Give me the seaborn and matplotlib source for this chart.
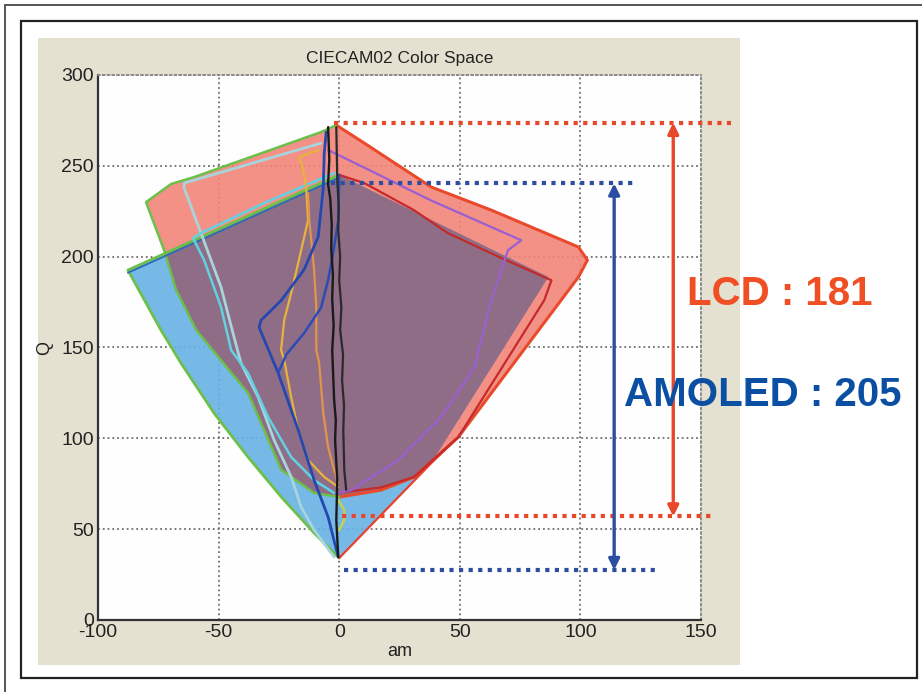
import matplotlib
matplotlib.use("Agg")
import matplotlib.pyplot as plt
import seaborn as sns
import numpy as np
from matplotlib.patches import Rectangle
from matplotlib.lines import Line2D

# gamut outlines (am, Q)
lcd_am = [-1.2, 10.4, 38.2, 63.1, 99.2, 102.9, 99.2, 49.4, 31.1, 17.4, 0.0,
          -10.4, -24.0, -37.8, -59.3, -67.6, -72.6, -80.1, -69.7, -60.2, -7.5]
lcd_q = [272.4, 262.5, 238.3, 225.6, 205.3, 198.1, 188.8, 100.7, 78.7, 71.5, 67.7,
         69.9, 82.6, 124.9, 159.6, 181.6, 203.6, 230.0, 240.0, 243.8, 268.6]

amo_am = [-87.6, 0.0, 86.7, 38.2, 0.0, -10.4, -24.0, -37.8, -51.9, -65.6, -73.9]
amo_q = [192.6, 245.0, 188.8, 86.4, 34.1, 47.9, 67.7, 89.7, 113.9, 141.4, 159.6]

# hue lines inside the gamut
blue1_am = [-5.4, -6.2, -6.6, -8.7, -14.5, -24.0, -32.4, -33.2, -25.3, -17.0, -10.4, -4.6, -0.4]
blue1_q = [268.6, 257.0, 238.0, 211.0, 193.0, 176.0, 165.0, 161.0, 136.0, 104.6, 77.0, 56.7, 34.7]
blue2_am = [0.0, -0.4, -2.5, -4.6, -7.5, -14.5, -22.0, -25.3]
blue2_q = [245.0, 220.0, 202.0, 187.0, 172.0, 158.0, 146.0, 136.0]

pale_am = [-7.5, -64.3, -64.3, -57.3, -49.0, -43.6, -40.7, -33.6, -27.0, -19.9, -15.8, -10.4, -2.1]
pale_q = [262.5, 240.5, 237.8, 213.0, 183.3, 155.7, 141.4, 122.7, 99.1, 78.7, 62.2, 49.5, 34.7]
cyan_am = [-2.1, -31.1, -57.3, -60.6, -56.0, -49.0, -44.8, -37.8, -29.5, -19.9, -10.4, -2.1]
cyan_q = [246.0, 229.5, 213.0, 210.2, 198.1, 172.3, 148.6, 135.9, 111.7, 89.7, 77.0, 69.9]

yellow_am = [-8.7, -16.6, -14.9, -13.7, -12.9, -17.0, -19.9, -22.8, -24.1, -22.8, -19.9, -17.0, -12.9, -6.2, -0.4]
yellow_q = [258.7, 254.8, 247.7, 238.3, 220.1, 196.5, 180.0, 165.1, 148.6, 143.1, 122.7, 104.6, 88.1, 78.7, 73.2]
orange_am = [-12.9, -12.4, -10.4, -9.5, -9.5, -8.3, -6.6, -4.6, -2.1, -0.4]
orange_q = [235.0, 220.1, 192.6, 172.3, 148.6, 141.4, 113.9, 95.2, 82.6, 75.4]
lime_am = [-0.4, 2.1, 2.1, 0.0]
lime_q = [66.0, 60.5, 55.0, 49.5]

purple_am = [-4.6, 10.4, 38.0, 75.5, 70.0, 63.0, 56.0, 42.3, 24.5, 5.0, -0.4]
purple_q = [258.7, 249.0, 231.0, 209.0, 203.6, 176.0, 139.0, 111.7, 88.0, 71.5, 70.0]
dred_am = [0.0, 10.4, 31.0, 45.0, 66.0, 88.0, 85.0, 49.4, 31.0, 17.4, -0.4]
dred_q = [245.0, 240.5, 225.6, 213.0, 200.0, 187.0, 176.0, 100.7, 78.7, 73.0, 70.0]

black1_am = [-4.6, -4.1, -4.6, -3.7, -3.1, -3.3, -2.6, -2.9, -2.3, -2.9, -2.1, -1.4, -1.7, -0.8, -1.2, -0.4]
black1_q = [271.3, 253.5, 240.0, 231.7, 218.0, 204.2, 190.0, 176.7, 162.0, 148.6, 121.1, 110.0, 99.0, 77.1, 55.0, 34.7]
black2_am = [-1.2, -0.8, -0.2, -0.4, 0.4, 0.0, 0.9, 0.4, 1.6, 1.2, 2.0, 1.7, 2.1, 2.9]
black2_q = [271.3, 242.0, 228.0, 214.5, 200.0, 187.0, 172.0, 159.6, 146.0, 132.0, 118.0, 104.6, 82.6, 71.6]

amo_lowright_am = [0.0, 38.2, 49.4]
amo_lowright_q = [34.1, 86.4, 100.7]

# dotted level markers and arrows
lcd_top, lcd_bot = 273.7, 57.0
amo_top, amo_bot = 240.3, 27.5
lcd_span = [-2.0, 162.6]
lcd_bot_span = [1.0, 156.0]
amo_span = [-3.3, 122.4]
amo_bot_span = [2.0, 132.8]
lcd_arrow_x, amo_arrow_x = 138.5, 114.0

xticks = [-100, -50, 0, 50, 100, 150]
yticks = [0, 50, 100, 150, 200, 250, 300]

sns.set_style("white")
fams = ['Liberation Sans', 'DejaVu Sans']
plt.rcParams['font.family'] = fams
plt.rcParams['axes.unicode_minus'] = False

W, H = 922, 692
fig = plt.figure(figsize=(W / 100, H / 100), dpi=100)
fig.patch.set_facecolor('white')


def fx(px):
    return px / W


def fy(py):
    return 1 - py / H


# page frames and the tan figure panel (behind the axes)
fig.add_artist(Line2D([fx(5), 1], [fy(5), fy(5)], color='#555555', lw=1.4, zorder=-5))
fig.add_artist(Line2D([fx(5), fx(5)], [0, fy(5)], color='#555555', lw=1.4, zorder=-5))
fig.add_artist(Rectangle((fx(21), fy(678)), fx(917 - 21), (678 - 21) / H,
                         fill=False, ec='#222222', lw=1.6, zorder=-5))
fig.add_artist(Rectangle((fx(38), fy(665)), fx(740 - 38), (665 - 38) / H,
                         fc='#e5e1d0', ec='none', zorder=-4))

ax = fig.add_axes([fx(98), fy(620), fx(701 - 98), (620 - 75) / H])
ax.set_facecolor('#fefefe')

ax.grid(True, ls=':', color='#6e6e6e', lw=1.3)
ax.set_axisbelow(True)

# filled gamuts
amo_patch = ax.fill(amo_am, amo_q, color='#68b2e4', alpha=0.9, lw=0, zorder=1)[0]
lcd_patch = ax.fill(lcd_am, lcd_q, color='#f2857a', alpha=0.9, lw=0, zorder=1.1)[0]
overlap = ax.fill(amo_am, amo_q, color='#886b87', alpha=0.92, lw=0, zorder=1.2)[0]
overlap.set_clip_path(lcd_patch)

# gamut edges
green = '#6cc04a'
ax.plot(lcd_am[:11], lcd_q[:11], color='#ea4a2c', lw=2.2, zorder=3)
ax.plot(lcd_am[10:] + [lcd_am[0]], lcd_q[10:] + [lcd_q[0]], color=green, lw=1.8, zorder=3)
ax.plot(amo_am[4:] + amo_am[:2], amo_q[4:] + amo_q[:2], color=green, lw=2.0, zorder=3)
ax.plot(amo_am[:2], [v - 1.5 for v in amo_q[:2]], color='#2e6cb5', lw=1.3, zorder=3)
ax.plot(amo_lowright_am, amo_lowright_q, color='#e8412e', lw=1.6, zorder=3)

lines = [
    (dred_am, dred_q, '#c42a2a', 1.6),
    (purple_am, purple_q, '#9a5fd0', 1.6),
    (pale_am, pale_q, '#a8d4dc', 2.0),
    (cyan_am, cyan_q, '#5fd2e4', 1.8),
    (yellow_am, yellow_q, '#e6b43c', 1.6),
    (orange_am, orange_q, '#e0944c', 1.6),
    (lime_am, lime_q, '#c2d24e', 1.8),
    (blue1_am, blue1_q, '#2448b0', 2.0),
    (blue2_am, blue2_q, '#2a4cb4', 1.8),
    (black1_am, black1_q, '#1a1a1a', 1.7),
    (black2_am, black2_q, '#2a2a2a', 1.6),
]
for xs, ys, c, w in lines:
    sns.lineplot(x=xs, y=ys, sort=False, estimator=None, color=c, lw=w, ax=ax, zorder=4)

# level markers
red = '#e8472a'
blue = '#2b4ea0'
dots = (0, (1, 1.3))
ax.plot(lcd_span, [lcd_top, lcd_top], color=red, lw=3, ls=dots, clip_on=False, zorder=5)
ax.plot(lcd_bot_span, [lcd_bot, lcd_bot], color=red, lw=3, ls=dots, clip_on=False, zorder=5)
ax.plot(amo_span, [amo_top, amo_top], color=blue, lw=3, ls=dots, clip_on=False, zorder=5)
ax.plot(amo_bot_span, [amo_bot, amo_bot], color=blue, lw=3, ls=dots, clip_on=False, zorder=5)

ax.annotate('', xy=(lcd_arrow_x, lcd_top), xytext=(lcd_arrow_x, lcd_bot),
            arrowprops=dict(arrowstyle='<|-|>', color=red, lw=2.4, mutation_scale=16,
                            shrinkA=0, shrinkB=0), annotation_clip=False, zorder=6)
ax.annotate('', xy=(amo_arrow_x, amo_top), xytext=(amo_arrow_x, amo_bot),
            arrowprops=dict(arrowstyle='<|-|>', color=blue, lw=2.4, mutation_scale=16,
                            shrinkA=0, shrinkB=0), annotation_clip=False, zorder=6)

ax.set_xlim(-100, 150)
ax.set_ylim(0, 300)
ax.set_xticks(xticks)
ax.set_yticks(yticks)
ax.tick_params(direction='in', length=4, width=1, colors='#333333', labelcolor='#222222',
               labelsize=14, pad=3)
for s in ['left', 'bottom']:
    ax.spines[s].set_color('#333333')
    ax.spines[s].set_linewidth(1.6)
for s in ['top', 'right']:
    ax.spines[s].set_color('#888888')
    ax.spines[s].set_linestyle(':')
    ax.spines[s].set_linewidth(1.3)

ax.set_title('CIECAM02 Color Space', fontsize=12.5, color='#222222', pad=9)
ax.set_xlabel('am', fontsize=13, color='#222222', labelpad=1)
ax.set_ylabel('Q', fontsize=13, color='#222222', labelpad=6)

fig.text(fx(780), fy(294), 'LCD : 181', color='#f04e23', fontsize=29, fontweight='bold',
         ha='center', va='center')
fig.text(fx(763), fy(395), 'AMOLED : 205', color='#0b4fa3', fontsize=29, fontweight='bold',
         ha='center', va='center')

fig.savefig('out.png', dpi=100)
